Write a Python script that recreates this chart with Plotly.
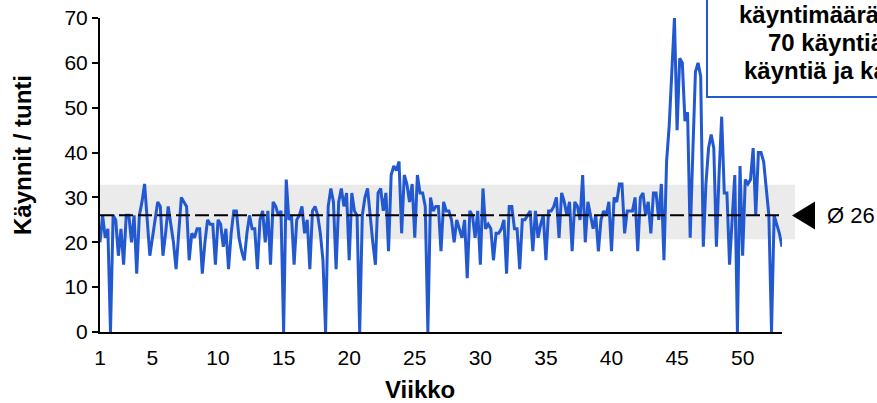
import plotly.graph_objects as go

# ---- data ----
visits = [
    20, 26, 21, 23, 0, 26, 25, 17, 23, 15, 26, 26, 20, 26, 13, 26, 29, 33, 25, 17,
    21, 25, 29, 28, 17, 22, 28, 24, 20, 14, 22, 30, 29, 28, 16, 22, 21, 23, 23, 13,
    20, 25, 24, 24, 15, 25, 24, 19, 23, 14, 22, 27, 27, 21, 18, 16, 22, 26, 23, 23,
    14, 25, 27, 20, 27, 15, 29, 28, 26, 27, 0, 34, 25, 26, 15, 25, 26, 28, 22, 25,
    14, 27, 28, 26, 22, 16, 0, 28, 32, 29, 14, 29, 32, 28, 31, 16, 31, 27, 26, 0,
    26, 30, 32, 25, 20, 15, 31, 32, 27, 31, 18, 35, 37, 36, 38, 22, 35, 33, 29, 33,
    21, 35, 31, 31, 28, 0, 30, 27, 28, 28, 18, 29, 27, 27, 25, 20, 25, 23, 21, 25,
    12, 27, 26, 21, 27, 15, 32, 23, 24, 23, 16, 22, 22, 23, 25, 13, 28, 28, 23, 23,
    14, 25, 25, 26, 27, 18, 27, 21, 24, 26, 16, 27, 27, 28, 30, 21, 31, 29, 26, 29,
    18, 29, 28, 25, 35, 20, 29, 26, 23, 26, 18, 25, 27, 26, 29, 18, 30, 29, 33, 33,
    22, 27, 27, 27, 30, 18, 30, 31, 26, 29, 22, 31, 31, 25, 33, 16, 38, 46, 58, 70,
    45, 61, 60, 47, 49, 21, 40, 58, 60, 57, 19, 33, 41, 44, 41, 19, 35, 48, 31, 31,
    15, 26, 35, 0, 37, 17, 34, 33, 34, 41, 26, 40, 40, 38, 32, 26, 0, 26, 24, 22,
    19,
]
points_per_week = 5
weeks = [1 + i / points_per_week for i in range(len(visits))]

x_ticks = [1, 5, 10, 15, 20, 25, 30, 35, 40, 45, 50]
y_ticks = [0, 10, 20, 30, 40, 50, 60, 70]
x_range = [1, 53]
y_range = [0, 70]

average = 26
band_low = 20.7
band_high = 32.8

x_title = "Viikko"
y_title = "Käynnit / tunti"
avg_label = "Ø 26"
box_lines = ["käyntimäärä oli", "70 käyntiä (ka. 26", "käyntiä ja kasvu)"]

# ---- styling ----
FONT = "Liberation Sans, Arial, sans-serif"
BLUE = "#2259d1"
W, H = 877, 403
ML, MR, MT, MB = 100, 95, 18, 71
PW, PH = W - ML - MR, H - MT - MB


def px_x(p):
    return (p - ML) / PW


def px_y(p):
    return (H - MB - p) / PH


def val_y(v):
    return (v - y_range[0]) / (y_range[1] - y_range[0])


fig = go.Figure()

fig.add_trace(go.Scatter(
    x=weeks, y=visits, mode="lines",
    line=dict(color=BLUE, width=3),
    hoverinfo="skip", showlegend=False,
))

fig.add_trace(go.Scatter(
    x=[weeks[0], x_range[1]], y=[average, average], mode="lines",
    line=dict(color="black", width=2, dash="14px,5px"),
    hoverinfo="skip", showlegend=False,
))

shapes = [
    # grey band (extends a little beyond the plot area)
    dict(type="rect", xref="paper", yref="paper",
         x0=0, x1=px_x(795), y0=val_y(band_low), y1=val_y(band_high),
         fillcolor="#ebebeb", line=dict(width=0), layer="below"),
    # pointer triangle
    dict(type="path", xref="paper", yref="paper",
         path="M {:.4f} {:.4f} L {:.4f} {:.4f} L {:.4f} {:.4f} Z".format(
             px_x(792), val_y(average),
             px_x(815), val_y(average) + 14 / PH,
             px_x(815), val_y(average) - 14 / PH),
         fillcolor="black", line=dict(width=0)),
    # annotation box
    dict(type="rect", xref="paper", yref="paper",
         x0=px_x(707), x1=px_x(1000), y0=px_y(97), y1=px_y(-60),
         fillcolor="white", line=dict(color=BLUE, width=2)),
]

annotations = [
    dict(xref="paper", yref="paper", x=px_x(825), y=val_y(average),
         xanchor="left", yanchor="middle", showarrow=False,
         text=avg_label, font=dict(family=FONT, size=22, color="black")),
    dict(xref="paper", yref="paper", x=px_x(22), y=px_y(155),
         xanchor="center", yanchor="middle", showarrow=False, textangle=-90,
         text="<b>" + y_title + "</b>", font=dict(family=FONT, size=24, color="black")),
    dict(xref="paper", yref="paper", x=px_x(420), y=px_y(389),
         xanchor="center", yanchor="middle", showarrow=False,
         text="<b>" + x_title + "</b>", font=dict(family=FONT, size=24, color="black")),
]
for line_text, lx, ly in zip(box_lines, [737, 766, 742], [15, 43, 71]):
    annotations.append(dict(
        xref="paper", yref="paper", x=px_x(lx), y=px_y(ly),
        xanchor="left", yanchor="middle", showarrow=False,
        text="<b>" + line_text + "</b>",
        font=dict(family=FONT, size=24, color="black")))

fig.update_layout(
    width=W, height=H,
    margin=dict(l=ML, r=MR, t=MT, b=MB, pad=0),
    paper_bgcolor="white", plot_bgcolor="white",
    font=dict(family=FONT, size=21, color="black"),
    shapes=shapes, annotations=annotations,
    showlegend=False,
    xaxis=dict(range=x_range, tickmode="array", tickvals=x_ticks,
               ticktext=[str(t) for t in x_ticks],
               showgrid=False, zeroline=False, showline=True,
               linecolor="black", linewidth=2,
               ticks="outside", ticklen=6, tickcolor="rgba(0,0,0,0)",
               tickfont=dict(family=FONT, size=21, color="black"),
               automargin=False, fixedrange=True),
    yaxis=dict(range=y_range, tickmode="array", tickvals=y_ticks,
               showgrid=False, zeroline=False, showline=True,
               linecolor="black", linewidth=2,
               ticks="outside", ticklen=6, tickwidth=2, tickcolor="black",
               tickfont=dict(family=FONT, size=21, color="black"),
               automargin=False, fixedrange=True),
)

fig.write_html(
    "out.html",
    config={"displayModeBar": False},
    post_script="document.body.style.margin='0';document.body.style.overflow='hidden';",
)
